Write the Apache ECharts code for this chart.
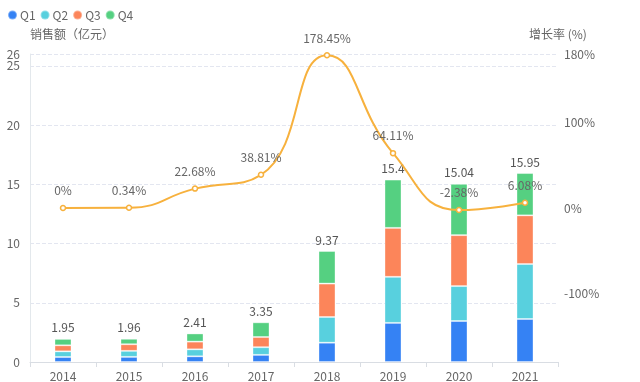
<!DOCTYPE html>
<html>
<head>
<meta charset="utf-8">
<script src="https://cdn.jsdelivr.net/npm/echarts@6/dist/echarts.min.js"></script>
<style>html,body{margin:0;padding:0;background:#fff}#c{width:640px;height:382px}</style>
</head>
<body>
<div id="c"></div>
<script>
const categories = ['2014','2015','2016','2017','2018','2019','2020','2021'];
const q1 = [0.42, 0.43, 0.48, 0.60, 1.63, 3.30, 3.46, 3.63];
const q2 = [0.48, 0.51, 0.59, 0.65, 2.17, 3.89, 2.95, 4.64];
const q3 = [0.51, 0.56, 0.65, 0.86, 2.82, 4.13, 4.30, 4.11];
const q4 = [0.54, 0.46, 0.69, 1.24, 2.75, 4.08, 4.33, 3.57];
const totals = [1.95, 1.96, 2.41, 3.35, 9.37, 15.4, 15.04, 15.95];
const growth = [0, 0.34, 22.68, 38.81, 178.45, 64.11, -2.38, 6.08];
const rightLabels = [-100, 0, 100, 180];

const chart = echarts.init(document.getElementById('c'));
const font = 'Microsoft YaHei, "Noto Sans CJK SC", sans-serif';
const barStyle = c => ({ color: c, borderColor: 'rgba(255,255,255,0.35)', borderWidth: 1 });
chart.setOption({
  animation: false,
  textStyle: { fontFamily: font },
  legend: {
    left: 2, top: 4, icon: 'circle', itemWidth: 9, itemHeight: 9, itemGap: 4,
    textStyle: { color: '#666', fontSize: 12, padding: [0, 0, 0, -2] },
    data: ['Q1','Q2','Q3','Q4']
  },
  grid: { left: 30, right: 82, top: 54, bottom: 20, containLabel: false },
  xAxis: {
    type: 'category', data: categories,
    axisLine: { lineStyle: { color: '#d9dde3' } },
    axisTick: { show: true, lineStyle: { color: '#d9dde3' } },
    axisLabel: { color: '#666', fontSize: 12, margin: 8 }
  },
  yAxis: [
    {
      type: 'value', min: 0, max: 26, interval: 5,
      name: '销售额（亿元）', nameGap: 14,
      nameTextStyle: { color: '#666', fontSize: 12, align: 'left', padding: [0,0,0,0] },
      axisLine: { show: true, lineStyle: { color: '#e3e8ec' } },
      axisTick: { show: false },
      axisLabel: { color: '#666', fontSize: 12, margin: 10 },
      splitLine: { lineStyle: { color: '#e3e6f0', type: 'dashed' } }
    },
    {
      type: 'value', min: -180, max: 180, interval: 20,
      name: '增长率 (%)', nameGap: 14,
      nameTextStyle: { color: '#666', fontSize: 12, align: 'left', padding: [0,0,0,-29] },
      axisLine: { show: false }, axisTick: { show: false },
      splitLine: { show: false },
      axisLabel: {
        color: '#666', fontSize: 12, margin: 6,
        formatter: v => rightLabels.indexOf(v) >= 0 ? v + '%' : ''
      }
    }
  ],
  series: [
    { name: 'Q1', type: 'bar', stack: 's', barWidth: 17, data: q1, itemStyle: barStyle('#3582f4') },
    { name: 'Q2', type: 'bar', stack: 's', data: q2, itemStyle: barStyle('#58d0de') },
    { name: 'Q3', type: 'bar', stack: 's', data: q3, itemStyle: barStyle('#fc855a') },
    { name: 'Q4', type: 'bar', stack: 's', data: q4, itemStyle: barStyle('#55d081'),
      label: { show: true, position: 'top', color: '#555', fontSize: 12, distance: 5,
        formatter: p => String(totals[p.dataIndex]) } },
    { name: '增长率', type: 'line', yAxisIndex: 1, smooth: true, data: growth,
      symbol: 'circle', symbolSize: 5,
      lineStyle: { color: '#f7b13d', width: 2 },
      itemStyle: { color: '#fff', borderColor: '#f7b13d', borderWidth: 1.5 },
      label: { show: true, position: 'top', color: '#666', fontSize: 12, distance: 8,
        formatter: p => p.value + '%' } }
  ]
});
</script>
</body>
</html>
